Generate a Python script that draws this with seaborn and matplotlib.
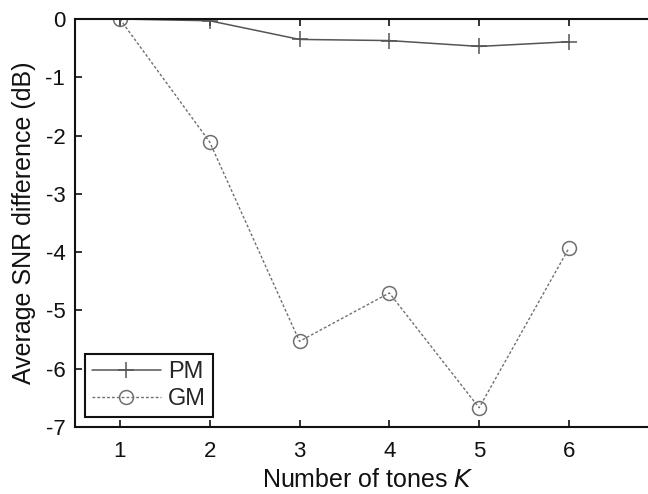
import matplotlib
matplotlib.use("Agg")
import matplotlib.pyplot as plt
import seaborn as sns
import pandas as pd

tones = [1, 2, 3, 4, 5, 6]
pm_values = [0.0, -0.03, -0.35, -0.37, -0.47, -0.39]
gm_values = [0.0, -2.11, -5.53, -4.70, -6.67, -3.93]

sns.set_style("ticks")
plt.rcParams['font.family'] = ['Liberation Sans', 'DejaVu Sans']
plt.rcParams['axes.unicode_minus'] = False

df = pd.DataFrame({
    "K": tones * 2,
    "SNR": pm_values + gm_values,
    "Method": ["PM"] * len(tones) + ["GM"] * len(tones),
})

fig = plt.figure(figsize=(6.48, 4.94), dpi=100)
ax = fig.add_axes([0.1157, 0.1356, 0.8843, 0.8259])

pm_col = "#555555"
gm_col = "#707070"
sns.lineplot(data=df[df.Method == "PM"], x="K", y="SNR", ax=ax, color=pm_col,
             marker="+", markersize=11, markeredgewidth=1.1, markeredgecolor=pm_col,
             linewidth=1.1, linestyle="-", label="PM")
sns.lineplot(data=df[df.Method == "GM"], x="K", y="SNR", ax=ax, color=gm_col,
             marker="o", markersize=10, markerfacecolor="none", markeredgecolor=gm_col,
             markeredgewidth=1.1, linewidth=1.0, linestyle=(0, (2, 1.5)), label="GM")

ax.set_xlim(0.5, 6.88)
ax.set_ylim(-7, 0)
ax.set_xticks(tones)
ax.set_yticks(range(-7, 1))
ax.tick_params(direction="in", length=5, width=1.2, labelsize=16, top=True, right=False,
               colors="#111111")
ax.tick_params(axis="y", pad=7)
ax.tick_params(axis="x", pad=10)
for s in ["left", "bottom", "top"]:
    ax.spines[s].set_linewidth(1.5)
    ax.spines[s].set_color("#111111")
ax.spines["right"].set_visible(False)

ax.set_xlabel("Number of tones $\\mathit{K}$", fontsize=18, color="#111111")
ax.set_ylabel("Average SNR difference (dB)", fontsize=18, color="#111111")
ax.xaxis.set_label_coords(0.511, -0.100)
ax.yaxis.set_label_coords(-0.068, 0.5)

leg = ax.legend(loc="lower left", fontsize=17, frameon=True, fancybox=False,
                handlelength=2.9, borderpad=0.3, labelspacing=0.2,
                handletextpad=0.3, borderaxespad=0,
                bbox_to_anchor=(0.0175, 0.0245))
leg.get_frame().set_edgecolor("#111111")
leg.get_frame().set_linewidth(1.5)
leg.get_frame().set_alpha(1)

fig.savefig("out.png", dpi=100)
